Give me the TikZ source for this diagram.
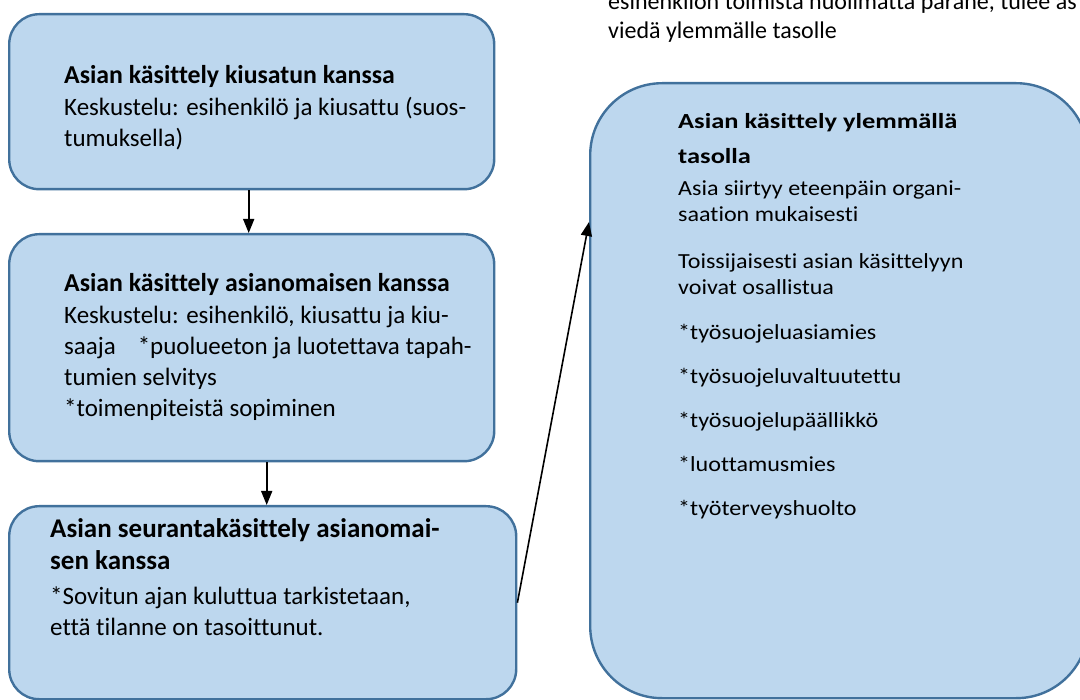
\documentclass[tikz,border=0pt]{standalone}
\usepackage{fontspec}
\setmainfont{Carlito}[Ligatures=NoCommon]
\newfontfamily\widefont[FakeStretch=1.12,Ligatures=NoCommon]{Carlito}
\newfontfamily\widebold[FakeStretch=1.23,Ligatures=NoCommon,UprightFont=*-Bold]{Carlito}
\newcommand{\ttl}[1]{{\fontsize{25.8}{31}\selectfont\bfseries #1}}
\newcommand{\ttlb}[1]{{\fontsize{27}{31}\selectfont\bfseries #1}}
\usetikzlibrary{arrows.meta}
\definecolor{boxfill}{HTML}{BDD7EE}
\definecolor{boxline}{HTML}{41719C}
\begin{document}
\begin{tikzpicture}[x=1pt,y=-1pt,
  box/.style={draw=boxline,fill=boxfill,line width=2.4pt,rounded corners=30pt,anchor=north west,inner sep=0pt},
  bigbox/.style={box,rounded corners=72pt},
  txt/.style={anchor=base west,inner sep=0pt,font=\fontsize{25}{31}\selectfont},
  rtxt/.style={anchor=base west,inner sep=0pt,font=\widefont\fontsize{21.5}{26}\selectfont},
  arr/.style={line width=1.6pt,-{Triangle[length=14pt,width=11pt]}}]
\useasboundingbox (0,0) rectangle (1080,700);
\clip (0,0) rectangle (1080,700);
% boxes
\node[box,minimum width=485pt,minimum height=175pt] (b1) at (8,13) {};
\node[box,minimum width=485pt,minimum height=227pt] (b2) at (8,233) {};
\node[box,minimum width=507pt,minimum height=193pt] (b3) at (8,505) {};
\node[bigbox,minimum width=498pt,minimum height=615pt] (b4) at (589,82) {};
% texts
\node[txt] (t1) at (64,84) {\begin{tabular}[t]{@{}l@{}}
\ttl{Asian käsittely kiusatun kanssa}\\[1pt]
Keskustelu: esihenkilö ja kiusattu (suos-\\
tumuksella)\end{tabular}};
\node[txt] (t2) at (64,292) {\begin{tabular}[t]{@{}l@{}}
\ttl{Asian käsittely asianomaisen kanssa}\\[1pt]
Keskustelu: esihenkilö, kiusattu ja kiu-\\
saaja\hspace{0.65em} *puolueeton ja luotettava tapah-\\
tumien selvitys\\
{*}toimenpiteistä sopiminen\end{tabular}};
\node[txt] (t3) at (50,538) {\begin{tabular}[t]{@{}l@{}}
\ttlb{Asian seurantakäsittely asianomai-}\\[1pt]
\ttlb{sen kanssa}\\[4pt]
{*}Sovitun ajan kuluttua tarkistetaan,\\
että tilanne on tasoittunut.\end{tabular}};
\node[rtxt] (t4) at (678,129) {\begin{tabular}[t]{@{}l@{}}
{\widebold Asian käsittely ylemmällä}\\[9pt]
{\widebold tasolla}\\[6pt]
Asia siirtyy eteenpäin organi-\\
saation mukaisesti\\[21pt]
Toissijaisesti asian käsittelyyn\\
voivat osallistua\\[19pt]
{*}työsuojeluasiamies\\[18pt]
{*}työsuojeluvaltuutettu\\[18pt]
{*}työsuojelupäällikkö\\[18pt]
{*}luottamusmies\\[18pt]
{*}työterveyshuolto\end{tabular}};
\node[anchor=base west,inner sep=0pt,font=\fontsize{24}{29}\selectfont] (t0) at (608,10) {\begin{tabular}[t]{@{}l@{}}
esihenkilön toimista huolimatta parane, tulee as\\
viedä ylemmälle tasolle\end{tabular}};
% connectors
\coordinate (a3) at (b4.west |- 0,222);
\draw[arr] ([xshift=-3pt]b1.south) -- ([xshift=-3pt]b2.north);
\draw[arr] ([xshift=15pt]b2.south) -- ([xshift=15pt]b2.south |- b3.north);
\draw[arr] (b3.east) -- (a3);
\end{tikzpicture}
\end{document}
